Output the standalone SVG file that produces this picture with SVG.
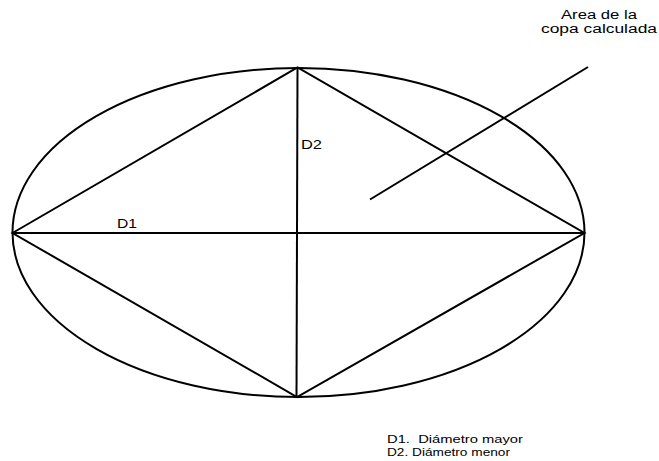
<svg xmlns="http://www.w3.org/2000/svg" width="659" height="461" viewBox="0 0 659 461">
<style>
.s{fill:none;stroke:#000;stroke-width:2;stroke-linejoin:miter}
.t{font-family:"Liberation Sans",Arial,sans-serif;font-size:12px;fill:#000}
.l{font-size:11px}
</style>
<rect width="659" height="461" fill="#fff"/>
<g id="crown">
<ellipse class="s" cx="298.5" cy="232.5" rx="286" ry="164.5"/>
</g>
<g id="connectors">
<polygon class="s" points="12.5,233 297.5,67.5 584.5,233 297,397"/>
<line class="s" x1="12.5" y1="233" x2="584.5" y2="233"/>
<line class="s" x1="297.5" y1="67.5" x2="296.5" y2="397"/>
<line class="s" x1="370" y1="199.5" x2="588" y2="67"/>
</g>
<g id="label-d1"><text class="t" x="117" y="228" textLength="20" lengthAdjust="spacingAndGlyphs">D1</text></g>
<g id="label-d2"><text class="t" x="301" y="149" textLength="21" lengthAdjust="spacingAndGlyphs">D2</text></g>
<g id="label-area">
<text class="t" x="561" y="19" textLength="76" lengthAdjust="spacingAndGlyphs">Area de la</text>
<text class="t" x="541" y="33" textLength="116" lengthAdjust="spacingAndGlyphs">copa calculada</text>
</g>
<g id="legend">
<text class="t l" x="387" y="443" textLength="136" lengthAdjust="spacingAndGlyphs">D1.&#160; Diámetro mayor</text>
<text class="t l" x="387" y="455.5" textLength="123" lengthAdjust="spacingAndGlyphs">D2. Diámetro menor</text>
</g>
</svg>
